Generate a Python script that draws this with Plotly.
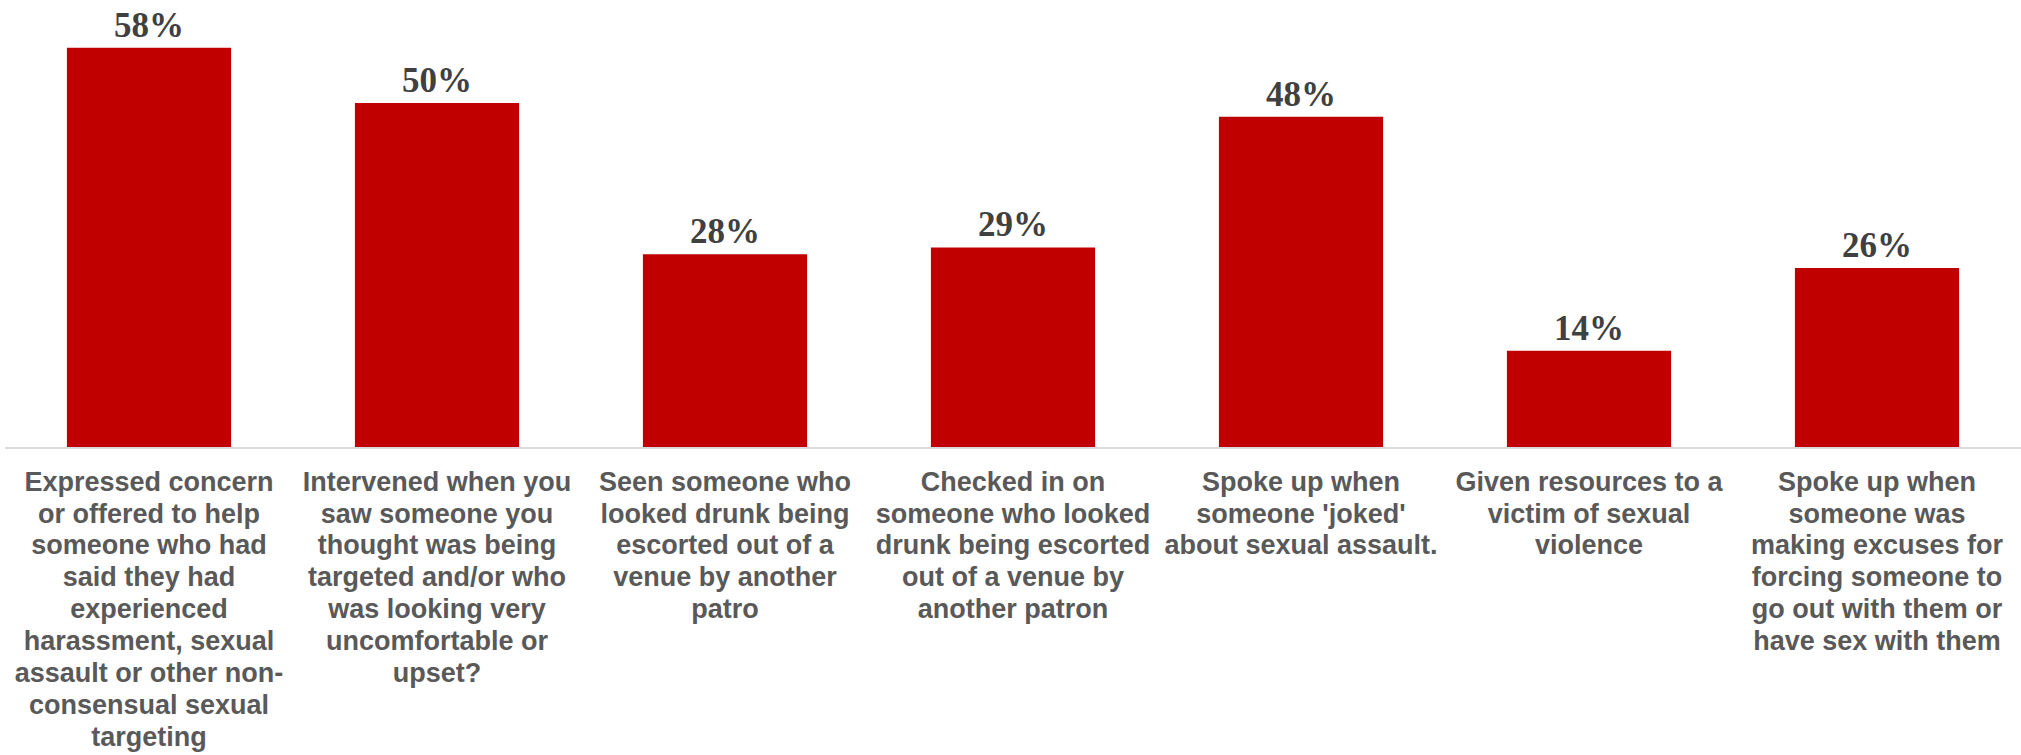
import plotly.graph_objects as go

categories = [
    "Expressed concern<br>or offered to help<br>someone who had<br>said they had<br>experienced<br>harassment, sexual<br>assault or other non-<br>consensual sexual<br>targeting",
    "Intervened when you<br>saw someone you<br>thought was being<br>targeted and/or who<br>was looking very<br>uncomfortable or<br>upset?",
    "Seen someone who<br>looked drunk being<br>escorted out of a<br>venue by another<br>patro",
    "Checked in on<br>someone who looked<br>drunk being escorted<br>out of a venue by<br>another patron",
    "Spoke up when<br>someone 'joked'<br>about sexual assault.",
    "Given resources to a<br>victim of sexual<br>violence",
    "Spoke up when<br>someone was<br>making excuses for<br>forcing someone to<br>go out with them or<br>have sex with them",
]
values = [58, 50, 28, 29, 48, 14, 26]
labels = [f"{v}%" for v in values]

# larger glyphs with tighter line spacing: base font sets the line pitch,
# inner span sets glyph size
tick_text = [
    "<br>".join(f"<span style='font-size:27px'>{ln}</span>" for ln in c.split("<br>"))
    for c in categories
]

fig = go.Figure()
fig.add_trace(go.Bar(
    x=categories,
    y=values,
    text=labels,
    textposition="outside",
    constraintext="none",
    cliponaxis=False,
    marker=dict(color="#C00000", line=dict(width=0)),
    textfont=dict(family="Liberation Serif", size=35, color="#404040", weight="bold"),
    hoverinfo="skip",
))

fig.update_layout(
    width=2021,
    height=755,
    margin=dict(l=5, r=0, t=10, b=308),
    paper_bgcolor="white",
    plot_bgcolor="white",
    bargap=0.43,
    showlegend=False,
    xaxis=dict(
        showline=True,
        linecolor="#D9D9D9",
        linewidth=2,
        ticks="",
        tickangle=0,
        tickmode="array",
        tickvals=categories,
        ticktext=tick_text,
        tickfont=dict(family="Liberation Sans", size=24.6, color="#595959", weight="bold"),
        ticklabelstandoff=12,
    ),
    yaxis=dict(
        range=[0, 63.5],
        showgrid=False,
        showticklabels=False,
        zeroline=False,
        showline=False,
    ),
)

fig.write_html("out.html")
